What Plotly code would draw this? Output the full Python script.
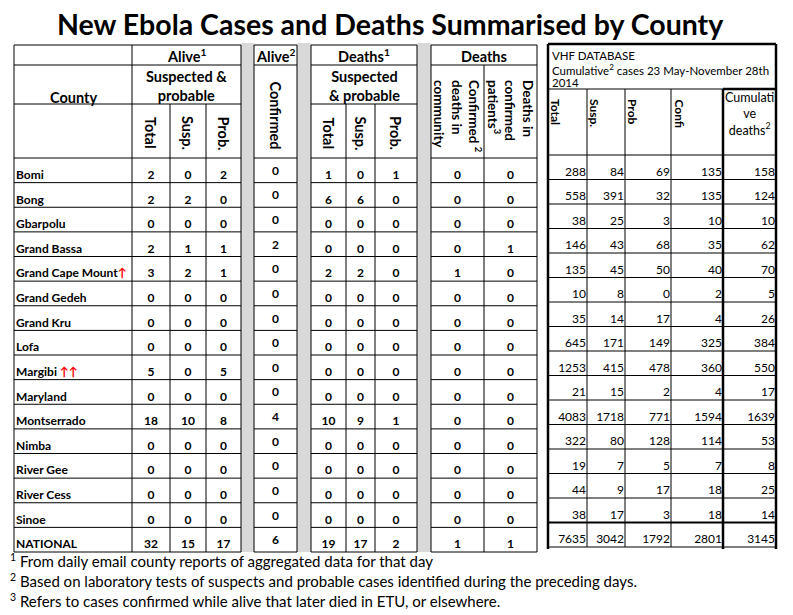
import plotly.graph_objects as go

# ---- data ----
counties = ["Bomi", "Bong", "Gbarpolu", "Grand Bassa", "Grand Cape Mount",
            "Grand Gedeh", "Grand Kru", "Lofa", "Margibi", "Maryland",
            "Montserrado", "Nimba", "River Gee", "River Cess", "Sinoe", "NATIONAL"]
flags = ["", "", "", "", "↑", "", "", "", " ↑↑", "", "", "", "", "", "", ""]

alive_total = [2, 2, 0, 2, 3, 0, 0, 0, 5, 0, 18, 0, 0, 0, 0, 32]
alive_susp = [0, 2, 0, 1, 2, 0, 0, 0, 0, 0, 10, 0, 0, 0, 0, 15]
alive_prob = [2, 0, 0, 1, 1, 0, 0, 0, 5, 0, 8, 0, 0, 0, 0, 17]
alive_conf = [0, 0, 0, 2, 0, 0, 0, 0, 0, 0, 4, 0, 0, 0, 0, 6]
death_total = [1, 6, 0, 0, 2, 0, 0, 0, 0, 0, 10, 0, 0, 0, 0, 19]
death_susp = [0, 6, 0, 0, 2, 0, 0, 0, 0, 0, 9, 0, 0, 0, 0, 17]
death_prob = [1, 0, 0, 0, 0, 0, 0, 0, 0, 0, 1, 0, 0, 0, 0, 2]
conf_community = [0, 0, 0, 0, 1, 0, 0, 0, 0, 0, 0, 0, 0, 0, 0, 1]
conf_patients = [0, 0, 0, 1, 0, 0, 0, 0, 0, 0, 0, 0, 0, 0, 0, 1]

vhf_total = [288, 558, 38, 146, 135, 10, 35, 645, 1253, 21, 4083, 322, 19, 44, 38, 7635]
vhf_susp = [84, 391, 25, 43, 45, 8, 14, 171, 415, 15, 1718, 80, 7, 9, 17, 3042]
vhf_prob = [69, 32, 3, 68, 50, 0, 17, 149, 478, 2, 771, 128, 5, 17, 3, 1792]
vhf_conf = [135, 135, 10, 35, 40, 2, 4, 325, 360, 4, 1594, 114, 7, 18, 18, 2801]
vhf_deaths = [158, 124, 10, 62, 70, 5, 26, 384, 550, 17, 1639, 53, 8, 25, 14, 3145]

title = "New Ebola Cases and Deaths Summarised by County"
footnotes = ["<sup>1</sup> From daily email county reports of aggregated data for that day",
             "<sup>2</sup> Based on laboratory tests of suspects and probable cases identified during the preceding days.",
             "<sup>3</sup> Refers to cases confirmed while alive that later died in ETU, or elsewhere."]

# ---- sheet geometry (page pixels) ----
W, H = 793, 615
PAD = 8  # the page body margin
TOP, H1, H2, H3, BOT = 45, 65, 104, 158, 552
n = len(counties)
rh = (BOT - H3) / n
alive_x = [132, 170, 206, 241]
conf_x = [254, 297]
dead_x = [311, 346, 375, 417]
dead2_x = [431, 484, 537]
vhf_x = [548, 587, 625, 671, 723, 776]
VTOP, VH1, VH2, VBOT = 44, 89, 155, 547
vrh = (VBOT - VH2) / n

FONT = "Lato"
HS = 14.5  # header font size
shapes = []
ann = []


def line(x0, y0, x1, y1, w=1):
    shapes.append(dict(type="line", xref="x", yref="y", x0=x0, y0=y0, x1=x1, y1=y1,
                       line=dict(color="black", width=w)))


def label(x, y, text, size=HS, bold=True, angle=0, xa="center", ya="middle", align="center"):
    ann.append(dict(x=x, y=y, xref="x", yref="y", text=text, showarrow=False,
                    textangle=angle, xanchor=xa, yanchor=ya, align=align,
                    font=dict(family=FONT, size=size, color="black",
                              weight="bold" if bold else "normal")))


# grey spacer columns
for a, b in [(241, 254), (297, 311), (417, 431)]:
    shapes.append(dict(type="rect", xref="x", yref="y", x0=a, x1=b, y0=TOP - 2, y1=BOT,
                       fillcolor="#d9d9d9", line_width=0, layer="below"))

# left block grid
segs = [(14, 241), (254, 297), (311, 417), (431, 537)]
for a, b in segs:
    line(a, TOP, b, TOP)
    line(a, H1, b, H1)
line(14, H2, 241, H2)
line(311, H2, 417, H2)
for i in range(n + 1):
    y = H3 + i * rh
    for a, b in segs:
        line(a, y, b, y)
for x in [14, 132, 241, 254, 297, 311, 417, 431, 537]:
    line(x, TOP, x, BOT)
for x in [170, 206, 346, 375]:
    line(x, H2, x, BOT)
line(484, H1, 484, BOT)

# VHF block grid
for i in range(n + 1):
    y = VH2 + i * vrh
    line(vhf_x[0], y, vhf_x[-1], y, 2.2 if i == n - 1 else 1)
line(vhf_x[0], VH1, vhf_x[4], VH1)
for x in vhf_x[1:4]:
    line(x, VH1, x, VBOT)
line(vhf_x[4], VH1, vhf_x[-1], VH1, 2.5)
line(vhf_x[4], VH1, vhf_x[4], VBOT + 2, 2.5)
line(vhf_x[0], VTOP, vhf_x[-1], VTOP, 2.5)
line(vhf_x[0], VTOP, vhf_x[0], VBOT + 2, 2.5)
line(vhf_x[-1], VTOP, vhf_x[-1], VBOT + 2, 2.5)

# headers
label(390, 24, title, size=28.5)
label((alive_x[0] + alive_x[-1]) / 2, 55, "Alive<sup>1</sup>")
label((alive_x[0] + alive_x[-1]) / 2, 86, "Suspected &<br>probable")
label(73, 97, "County")
label(sum(conf_x) / 2, 55, "Alive<sup>2</sup>")
label(sum(conf_x) / 2, 115, "Confirmed", angle=90)
label((dead_x[0] + dead_x[-1]) / 2, 55, "Deaths<sup>1</sup>")
label((dead_x[0] + dead_x[-1]) / 2, 86, "Suspected<br>& probable")
label((dead2_x[0] + dead2_x[-1]) / 2, 56, "Deaths")
for xs in (alive_x, dead_x):
    for j, t in enumerate(["Total", "Susp.", "Prob."]):
        label((xs[j] + xs[j + 1]) / 2, 133, t, angle=90)
label(sum(dead2_x[:2]) / 2, 78, "Confirmed <sup>2</sup><br>deaths in<br>community",
      size=13.5, angle=90, ya="top", align="left")
label(sum(dead2_x[1:]) / 2, 78, "Deaths in<br>confirmed<br>patients<sup>3</sup>",
      size=13.5, angle=90, ya="top", align="left")

label(550, 55, "VHF DATABASE", size=11.5, bold=False, xa="left")
label(550, 69, "Cumulative<sup>2</sup> cases 23 May-November 28th", size=11.5, bold=False, xa="left")
label(550, 82, "2014", size=11.5, bold=False, xa="left")
for j, t in enumerate(["Total", "Susp.", "Prob", "Confi"]):
    label(vhf_x[j] + 8, 97, t, size=12, angle=90, ya="top")
label((vhf_x[4] + vhf_x[5]) / 2, 114, "Cumulati<br>ve<br>deaths<sup>2</sup>", size=12.5, bold=False)

for k, t in enumerate(footnotes):
    label(PAD, 560 + k * 20, t, size=15, bold=False, xa="left")

fig = go.Figure()

# county names
row_y = [H3 + (i + 0.73) * rh for i in range(n)]
names = [c + (f"<span style='color:red'>{f}</span>" if f else "") for c, f in zip(counties, flags)]
fig.add_trace(go.Scatter(x=[16] * n, y=row_y, text=names, mode="text",
                         textposition="middle right", hoverinfo="skip",
                         textfont=dict(family=FONT, size=12, color="black", weight="bold")))

# left block numbers
cols = [(alive_x, [alive_total, alive_susp, alive_prob]),
        (dead_x, [death_total, death_susp, death_prob]),
        (dead2_x, [conf_community, conf_patients])]
for xs, series in cols:
    for j, vals in enumerate(series):
        fig.add_trace(go.Scatter(x=[(xs[j] + xs[j + 1]) / 2] * n, y=row_y,
                                 text=[str(v) for v in vals], mode="text",
                                 textposition="middle center", hoverinfo="skip",
                                 textfont=dict(family=FONT, size=12, color="black", weight="bold")))
fig.add_trace(go.Scatter(x=[sum(conf_x) / 2] * n, y=[H3 + (i + 0.56) * rh for i in range(n)],
                         text=[str(v) for v in alive_conf], mode="text",
                         textposition="middle center", hoverinfo="skip",
                         textfont=dict(family=FONT, size=12, color="black", weight="bold")))

# VHF numbers, right aligned at cell edge
vrow_y = [VH2 + (i + 1) * vrh - 7 for i in range(n)]
for j, vals in enumerate([vhf_total, vhf_susp, vhf_prob, vhf_conf, vhf_deaths]):
    fig.add_trace(go.Scatter(x=[vhf_x[j + 1] - 1] * n, y=vrow_y,
                             text=[str(v) for v in vals], mode="text",
                             textposition="middle left", hoverinfo="skip",
                             textfont=dict(family=FONT, size=12, color="black")))

fig.update_layout(width=W - PAD, height=H - PAD, margin=dict(l=0, r=0, t=0, b=0),
                  paper_bgcolor="white", plot_bgcolor="white", showlegend=False,
                  shapes=shapes, annotations=ann)
fig.update_xaxes(range=[PAD, W], visible=False, fixedrange=True)
fig.update_yaxes(range=[H, PAD], visible=False, fixedrange=True)
fig.write_html("out.html")
